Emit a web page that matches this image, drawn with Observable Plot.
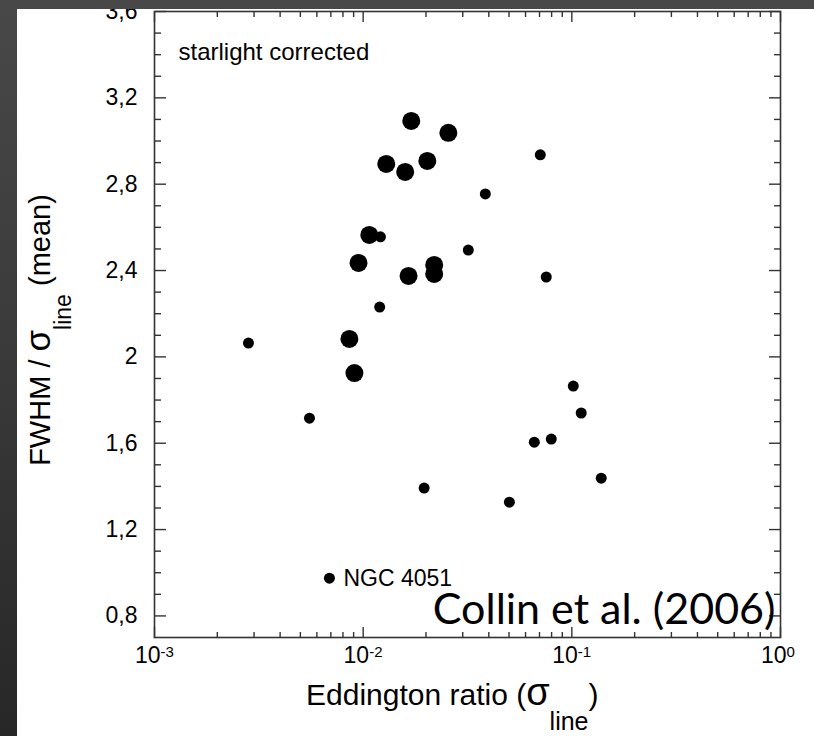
<!DOCTYPE html>
<html><head><meta charset="utf-8">
<script src="https://cdn.jsdelivr.net/npm/d3@7"></script>
<script src="https://cdn.jsdelivr.net/npm/@observablehq/plot@0.6"></script>
<style>
html,body{margin:0;padding:0;width:814px;height:736px;overflow:hidden;}
body{background:linear-gradient(180deg,#484848 0%,#3b3b3b 45%,#272727 100%);}
#wrap{position:absolute;left:17px;top:9px;width:797px;height:727px;overflow:hidden;background:#fff;}
</style></head><body><div id="wrap"></div>
<script>
// Data
const eddington = [0.0170, 0.0256, 0.0129, 0.0159, 0.0203, 0.0706, 0.0385, 0.0107, 0.0121, 0.0319,
  0.0095, 0.0165, 0.0219, 0.0219, 0.0754, 0.0120, 0.00282, 0.00859, 0.00908, 0.00553,
  0.1016, 0.1109, 0.0661, 0.0797, 0.1383, 0.0196, 0.0502, 0.00689];
const fwhmRatio = [3.093, 3.038, 2.894, 2.857, 2.908, 2.936, 2.755, 2.565, 2.556, 2.495,
  2.435, 2.375, 2.426, 2.384, 2.370, 2.231, 2.064, 2.083, 1.925, 1.716,
  1.865, 1.740, 1.605, 1.619, 1.438, 1.392, 1.327, 0.975];
const sizeGroup = ["large","large","large","large","large","small","small","large","small","small",
  "large","large","large","large","small","small","small","large","large","small",
  "small","small","small","small","small","small","small","small"];
const objectName = ["","","","","","","","","","","","","","","","","","","","","","","","","","","","NGC 4051"];

const yTickValues = [0.8, 1.2, 1.6, 2, 2.4, 2.8, 3.2, 3.6];
const yTickLabels = ["0,8", "1,2", "1,6", "2", "2,4", "2,8", "3,2", "3,6"];
const yMinorValues = [0.9, 1.0, 1.1, 1.3, 1.4, 1.5, 1.7, 1.8, 1.9, 2.1, 2.2, 2.3, 2.5, 2.6, 2.7, 2.9, 3.0, 3.1, 3.3, 3.4, 3.5];
const xTickValues = [1e-3, 1e-2, 1e-1, 1];
const xTickExponents = ["-3", "-2", "-1", "0"];
const xMinorValues = [1e-3, 1e-2, 1e-1].flatMap(d => [2,3,4,5,6,7,8,9].map(m => m * d));

const points = eddington.map((x, i) => ({x, y: fwhmRatio[i], size: sizeGroup[i], name: objectName[i]}));
const yTicks = yTickValues.map((v, i) => ({v, label: yTickLabels[i]}));
const xTicks = xTickValues.map((v, i) => ({v, exp: xTickExponents[i]}));

const tickColor = "#333";
const tickMarks = (dim, anchor, frameAnchor, ticks, size) =>
  (dim === "x" ? Plot.axisX : Plot.axisY)({anchor, frameAnchor, ticks, tickSize: size, fill: "none", stroke: tickColor, strokeWidth: 1.4, label: null});

const chart = Plot.plot({
  width: 797, height: 727,
  marginTop: 2, marginLeft: 137, marginRight: 34, marginBottom: 99,
  style: {fontFamily: "'Liberation Sans', Arial, sans-serif", fontSize: "23px", background: "#fff", color: "#000"},
  x: {type: "log", domain: [1e-3, 1], axis: null},
  y: {domain: [0.7, 3.6], axis: null},
  marks: [
    Plot.frame({stroke: "#333", strokeWidth: 1.6}),
    tickMarks("x", "top", "bottom", xTickValues, 11),
    tickMarks("x", "top", "bottom", xMinorValues, 6),
    tickMarks("x", "bottom", "top", xTickValues, 11),
    tickMarks("x", "bottom", "top", xMinorValues, 6),
    tickMarks("y", "right", "left", yTickValues, 11),
    tickMarks("y", "right", "left", yMinorValues, 6),
    tickMarks("y", "left", "right", yTickValues, 11),
    tickMarks("y", "left", "right", yMinorValues, 6),
    Plot.text(yTicks, {y: "v", text: "label", frameAnchor: "left", textAnchor: "end", dx: -17, fill: "#000"}),
    Plot.text(xTicks, {x: "v", text: () => "10", frameAnchor: "bottom", textAnchor: "end", dx: 6, dy: 25, fill: "#000"}),
    Plot.text(xTicks, {x: "v", text: "exp", frameAnchor: "bottom", textAnchor: "start", dx: 6, dy: 19, fontSize: 15, fill: "#000"}),
    Plot.text(["starlight corrected"], {text: d => d, frameAnchor: "top-left", textAnchor: "start", dx: 24, dy: 31, fontSize: 24, fill: "#000"}),
    Plot.dot(points.filter(d => d.size === "large"), {x: "x", y: "y", r: 9, fill: "#000"}),
    Plot.dot(points.filter(d => d.size === "small"), {x: "x", y: "y", r: 5.5, fill: "#000"}),
    Plot.text(points.filter(d => d.name), {x: "x", y: "y", text: "name", textAnchor: "start", dx: 14, fontSize: 23, fill: "#000"}),
    Plot.text(["Collin et al. (2006)"], {text: d => d, frameAnchor: "bottom-right", textAnchor: "end", dx: -5, dy: -14, fontFamily: "Lato, 'Open Sans', sans-serif", fontSize: 43, fill: "#000"})
  ]
});

const svg = d3.select(chart);
const xt = svg.append("text").attr("x", 289).attr("y", 696).attr("text-anchor", "start")
  .attr("font-family", "'Liberation Sans', Arial, sans-serif").attr("font-size", 30).attr("fill", "#000");
xt.append("tspan").text("Eddington ratio (");
xt.append("tspan").attr("font-size", 38).text("σ");
xt.append("tspan").attr("dy", 25).attr("font-size", 25).text("line");
xt.append("tspan").attr("dy", -25).text(")");

const yt = svg.append("text").attr("transform", "translate(33,321) rotate(-90)").attr("text-anchor", "middle")
  .attr("font-family", "'Liberation Sans', Arial, sans-serif").attr("font-size", 29).attr("fill", "#000");
yt.append("tspan").text("FWHM / ");
yt.append("tspan").attr("font-size", 35).text("σ");
yt.append("tspan").attr("dy", 21).attr("font-size", 23).text("line");
yt.append("tspan").attr("dy", -21).text(" (mean)");

document.getElementById("wrap").appendChild(chart);
</script>
</body></html>
